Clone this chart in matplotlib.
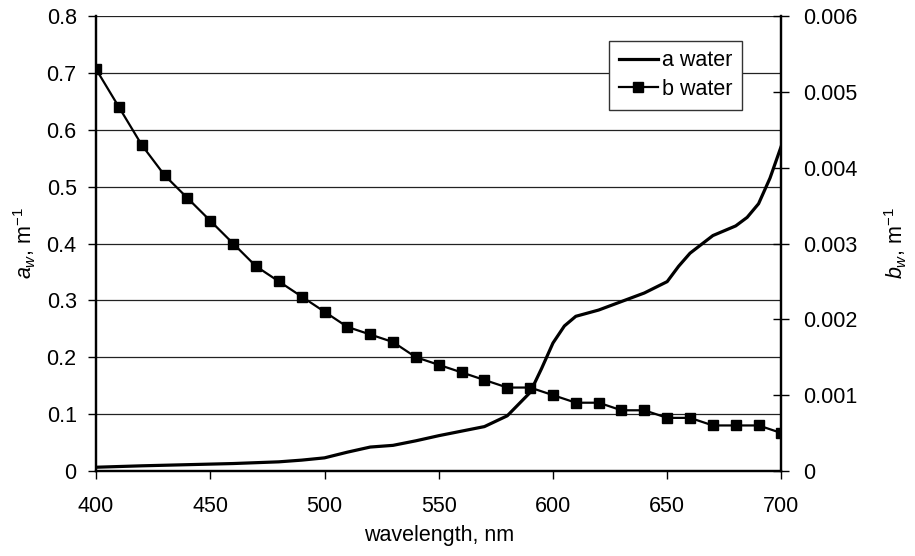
import numpy as np
import matplotlib
matplotlib.use('Agg')
import matplotlib.pyplot as plt

plt.rcParams['font.family'] = ['Liberation Sans', 'DejaVu Sans']
plt.rcParams['mathtext.fontset'] = 'custom'
plt.rcParams['mathtext.rm'] = 'Liberation Sans'
plt.rcParams['mathtext.it'] = 'Liberation Sans:italic'

# absorption of water, m^-1 (left axis)
wl_a = [400, 420, 440, 460, 480, 490, 500, 510, 520, 530, 540, 550, 560, 570,
        580, 590, 595, 600, 605, 610, 620, 630, 640, 650, 655, 660, 670, 680,
        685, 690, 695, 700]
a_water = [0.0065, 0.009, 0.011, 0.013, 0.016, 0.019, 0.023, 0.033, 0.042, 0.045,
           0.053, 0.062, 0.070, 0.078, 0.097, 0.138, 0.18, 0.225, 0.255, 0.272,
           0.283, 0.298, 0.313, 0.333, 0.36, 0.383, 0.414, 0.431, 0.446, 0.47,
           0.515, 0.572]

# scattering of water, m^-1 (right axis)
wl_b = list(range(400, 701, 10))
b_water = [0.0053, 0.0048, 0.0043, 0.0039, 0.0036, 0.0033, 0.0030, 0.0027,
           0.0025, 0.0023, 0.0021, 0.0019, 0.0018, 0.0017, 0.0015, 0.0014,
           0.0013, 0.0012, 0.0011, 0.0011, 0.0010, 0.0009, 0.0009, 0.0008,
           0.0008, 0.0007, 0.0007, 0.0006, 0.0006, 0.0006, 0.0005]

fs = 15.5

fig = plt.figure(figsize=(9.15, 5.56), dpi=100)
ax1 = fig.add_axes([0.105, 0.153, 0.749, 0.818])
ax2 = ax1.twinx()

l1, = ax1.plot(wl_a, a_water, '-', color='black', lw=2.3, label='a water')
l2, = ax2.plot(wl_b, b_water, '-', color='black', lw=1.6, marker='s',
               markersize=6.5, label='b water')

ax1.set_xlim(400, 700)
ax1.set_ylim(0, 0.8)
ax2.set_ylim(0, 0.006)
ax1.set_xticks(np.arange(400, 701, 50))
ax1.set_yticks(np.arange(0, 0.81, 0.1))
ax1.set_yticklabels(['0', '0.1', '0.2', '0.3', '0.4', '0.5', '0.6', '0.7', '0.8'])
ax2.set_yticks(np.arange(0, 0.0061, 0.001))
ax2.set_yticklabels(['0', '0.001', '0.002', '0.003', '0.004', '0.005', '0.006'])

ax1.grid(True, axis='y', color='#222222', lw=0.9)
ax1.set_axisbelow(True)

for ax in (ax1, ax2):
    ax.spines['top'].set_visible(False)
    for s in ('left', 'right', 'bottom'):
        ax.spines[s].set_linewidth(1.6)
ax1.tick_params(axis='x', labelsize=fs, direction='out', length=6, width=1, pad=12)
ax1.tick_params(axis='y', labelsize=fs, direction='out', length=6, width=1, pad=8)
ax2.tick_params(axis='y', labelsize=fs, direction='inout', length=11, width=1, pad=10)

ax1.set_xlabel('wavelength, nm', fontsize=fs, labelpad=6)
ax1.set_ylabel(r'$a_w$, m$^{-1}$', fontsize=fs, labelpad=6)
ax2.set_ylabel(r'$b_w$, m$^{-1}$', fontsize=fs, labelpad=18)

leg = ax2.legend(handles=[l1, l2], loc='upper right', bbox_to_anchor=(0.9425, 0.946),
                 fontsize=fs, frameon=True, fancybox=False, framealpha=1,
                 edgecolor='#333333', handlelength=1.8, handletextpad=0.2,
                 borderpad=0.45, labelspacing=0.35, borderaxespad=0)
leg.get_frame().set_linewidth(1.0)

fig.savefig('out.png', dpi=100)
